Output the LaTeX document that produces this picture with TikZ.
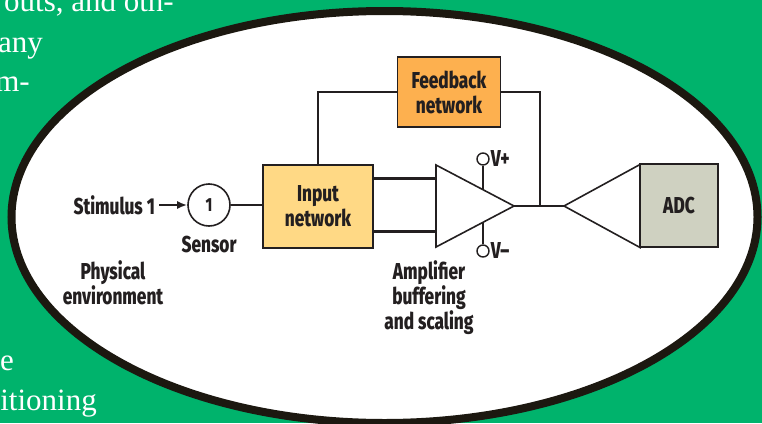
\documentclass[tikz,border=0pt]{standalone}
\usepackage{fontspec}
\setmainfont{Liberation Serif}
\newfontfamily\labelfont[FakeStretch=0.75]{Fira Sans ExtraBold}
\usetikzlibrary{positioning,shapes.geometric,arrows.meta}
\definecolor{pagegreen}{HTML}{00B36C}
\definecolor{ringblack}{HTML}{1C1810}
\definecolor{inkblack}{HTML}{231F20}
\definecolor{feedbackorange}{HTML}{FDB04F}
\definecolor{inputyellow}{HTML}{FFD985}
\definecolor{adcgray}{HTML}{CFD1C1}
\begin{document}
\begin{tikzpicture}[x = 1pt, y = -1pt, node distance = 10pt]
      \tikzset{BodyStyle/.style = {text = white,
          font = \fontsize{31}{39}\selectfont,
          inner sep = 0pt},
        TagStyle/.style = {text = inkblack,
          font = \labelfont\fontsize{23}{25}\selectfont,
          align = center,
          inner sep = 0pt},
        BoxStyle/.style = {draw = inkblack,
          line width = 1.6pt,
          text = inkblack,
          font = \labelfont\fontsize{23}{25}\selectfont,
          align = center,
          inner sep = 0pt},
        AmpStyle/.style = {draw = inkblack,
          line width = 1.6pt,
          isosceles triangle,
          isosceles triangle stretches,
          inner sep = 0pt,
          outer sep = 0pt,
          anchor = apex},
        RailStyle/.style = {draw = inkblack,
          line width = 1.4pt,
          circle,
          minimum size = 12pt,
          inner sep = 0pt},
        WireStyle/.style = {draw = inkblack,
          line width = 1.6pt},
        BusStyle/.style = {draw = inkblack,
          line width = 3pt}}
      \useasboundingbox (0,0) rectangle (762,423);
      \clip (0,0) rectangle (762,423);
      \fill[pagegreen] (0,0) rectangle (762,423);
      % text of the page behind the oval
      \node[BodyStyle, anchor = base east] (line1) at (174,11) {outs, and oth-};
      \node[BodyStyle, anchor = base east] (line2) at (43,52) {any};
      \node[BodyStyle, anchor = base east] (line3) at (30,91) {m-};
      \node[BodyStyle, anchor = base east] (line4) at (14,370) {re};
      \node[BodyStyle, anchor = base east] (line5) at (97,410) {itioning};
      \node[ellipse, draw = ringblack, fill = white, line width = 8pt,
        inner sep = 0pt, minimum width = 746pt, minimum height = 412pt] (oval) at (384.5,217) {};
      % blocks
      \node[BoxStyle, fill = feedbackorange, minimum width = 103pt, minimum height = 70pt] (Feedback) at (449,92) {Feedback\\network};
      \node[BoxStyle, fill = inputyellow, minimum width = 110pt, minimum height = 83pt] (Input) at (318,206.5) {Input\\network};
      \node[BoxStyle, fill = adcgray, minimum width = 78pt, minimum height = 83pt] (ADC) at (679,205.5) {ADC};
      \node[BoxStyle, circle, minimum size = 42pt, font = \labelfont\fontsize{19}{19}\selectfont] (S1) at (209,205) {1};
      \node[AmpStyle, minimum width = 82pt, minimum height = 78pt] (Amp) at (514,206) {};
      \node[AmpStyle, shape border rotate = 180, minimum width = 83pt, minimum height = 76pt] (Drive) at (564,206) {};
      \node[RailStyle] (Vp) at (483,159) {};
      \node[RailStyle] (Vm) at (483,251) {};
      % labels
      \node[TagStyle, right = 1pt of Vp] (VpTag) {V+};
      \node[TagStyle, right = 1pt of Vm] (VmTag) {V–};
      \node[TagStyle, left = 32pt of S1] (Stim) {Stimulus 1};
      \node[TagStyle, below = 9pt of S1] (SensorTag) {Sensor};
      \node[TagStyle] (EnvTag) at (113,283) {Physical\\environment};
      \node[TagStyle] (AmpTag) at (429,298) {Amplifier\\buffering\\and scaling};
      % connectors
      \coordinate (VpFoot) at (483,189);
      \coordinate (VmFoot) at (483,223);
      \coordinate (Tap) at (540,206);
      \coordinate (BusA) at (373,178);
      \coordinate (BusB) at (373,231);
      \draw[-{Latex[length=10pt,width=8pt]}, WireStyle, line width = 2.2pt] (Stim.east) ++(4,0) -- (S1);
      \draw[WireStyle] (S1) -- (S1 -| Input.west);
      \draw[BusStyle] (BusA) -- (BusA -| Amp.lower side);
      \draw[BusStyle] (BusB) -- (BusB -| Amp.lower side);
      \draw[WireStyle] (Amp.apex) -- (Drive.apex);
      \draw[WireStyle] (Input.north) |- (Feedback.west);
      \draw[WireStyle] (Feedback.east) -| (Tap);
      \draw[WireStyle] (Vp) -- (VpFoot);
      \draw[WireStyle] (Vm) -- (VmFoot);
    \end{tikzpicture}
\end{document}
